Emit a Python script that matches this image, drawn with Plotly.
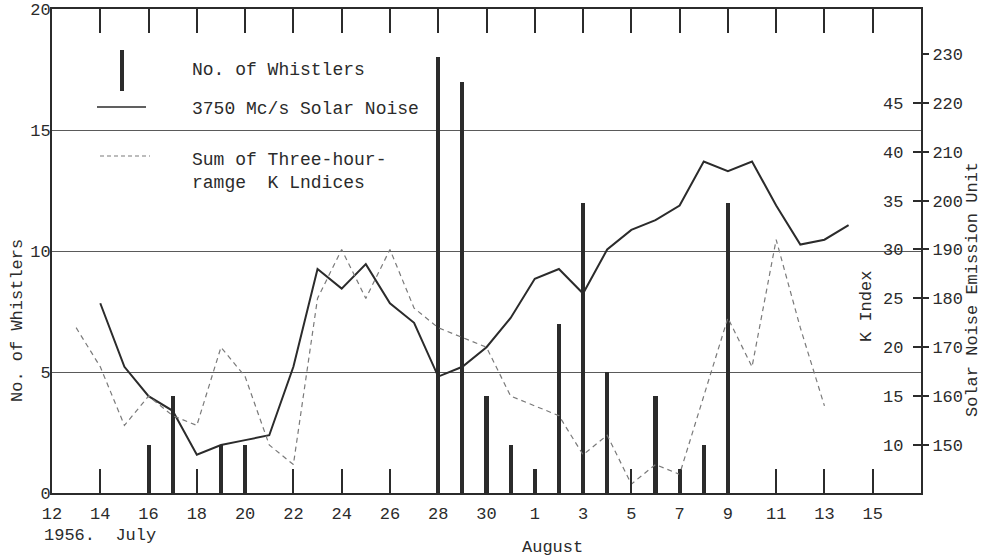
import plotly.graph_objects as go
import pandas as pd

# ---------------- data ----------------
whistler_dates = ["1956-07-16", "1956-07-17", "1956-07-19", "1956-07-20", "1956-07-28",
                  "1956-07-29", "1956-07-30", "1956-07-31", "1956-08-01", "1956-08-02",
                  "1956-08-03", "1956-08-04", "1956-08-06", "1956-08-07", "1956-08-08",
                  "1956-08-09"]
whistler_counts = [2, 4, 2, 2, 18, 17, 4, 2, 1, 7, 12, 5, 4, 1, 2, 12]

solar_dates = pd.date_range("1956-07-14", "1956-08-14", freq="D")
solar_noise = [179, 166, 160, 157, 148, 150, 151, 152, 166, 186, 182, 187, 179, 175,
               164, 166, 170, 176, 184, 186, 181, 190, 194, 196, 199, 208, 206, 208,
               199, 191, 192, 195]

k_dates = pd.date_range("1956-07-13", "1956-08-13", freq="D")
k_sum = [22, 18, 12, 15, 13, 12, 20, 17, 10, 8, 25, 30, 25, 30, 24, 22, 21, 20, 15,
         14, 13, 9, 11, 6, 8, 7, 15, 23, 18, 31, 22, 14]

tick_dates = pd.date_range("1956-07-12", "1956-08-15", freq="2D")
tick_labels = ["12", "14", "16", "18", "20", "22", "24", "26", "28", "30",
               "1", "3", "5", "7", "9", "11", "13", "15"]

left_ticks = [0, 5, 10, 15, 20]
solar_ticks = [150, 160, 170, 180, 190, 200, 210, 220, 230]
k_ticks = [10, 15, 20, 25, 30, 35, 40, 45]

# ---------------- style ----------------
FONT = "Liberation Mono"
INK = "#2b2b2b"
DASH_INK = "#7a7a7a"
W, H = 987, 558
ML, MR, MT, MB = 52, 66, 9, 65
DAY_MS = 86400000

fig = go.Figure()

fig.add_trace(go.Bar(
    x=whistler_dates, y=whistler_counts, width=0.17 * DAY_MS,
    marker=dict(color=INK, line=dict(width=0)), name="No. of Whistlers",
    yaxis="y", showlegend=False))

fig.add_trace(go.Scatter(
    x=solar_dates, y=solar_noise, mode="lines", yaxis="y2",
    line=dict(color=INK, width=2), name="3750 Mc/s Solar Noise", showlegend=False))

fig.add_trace(go.Scatter(
    x=k_dates, y=k_sum, mode="lines", yaxis="y3",
    line=dict(color=DASH_INK, width=1.2, dash="5px,4px"),
    name="Sum of Three-hour-range K Indices", showlegend=False))

fig.update_layout(
    width=W, height=H,
    margin=dict(l=ML, r=MR, t=MT, b=MB, autoexpand=False),
    paper_bgcolor="white", plot_bgcolor="white",
    font=dict(family=FONT, size=17, color=INK),
    bargap=0,
    xaxis=dict(
        type="date", range=["1956-07-12", "1956-08-17"],
        tickvals=tick_dates, ticktext=tick_labels, automargin=False,
        ticks="inside", ticklen=24, tickwidth=1.5, tickcolor=INK,
        showline=True, linecolor=INK, linewidth=2, mirror="ticks",
        showgrid=False, zeroline=False, ticklabelstandoff=4,
        tickfont=dict(family=FONT, size=17, color=INK)),
    yaxis=dict(
        range=[0, 20], tickvals=left_ticks, ticks="", automargin=False,
        showline=True, linecolor=INK, linewidth=2, mirror=True,
        showgrid=True, gridcolor="#5a5a5a", gridwidth=1, zeroline=False,
        ticklabelstandoff=-4,
        tickfont=dict(family=FONT, size=17, color=INK)),
    yaxis2=dict(
        overlaying="y", side="right", anchor="x", automargin=False,
        range=[140.18, 239.2], tickvals=solar_ticks,
        ticks="outside", ticklen=7, tickwidth=1.5, tickcolor=INK,
        showgrid=False, zeroline=False, showline=False,
        tickfont=dict(family=FONT, size=17, color=INK)),
    yaxis3=dict(
        overlaying="y", side="right", anchor="x", automargin=False,
        range=[5.09, 54.6], tickvals=k_ticks,
        ticks="inside", ticklen=8, tickwidth=1.5, tickcolor=INK,
        ticklabelposition="inside", ticklabelstandoff=10,
        showgrid=False, zeroline=False, showline=False,
        tickfont=dict(family=FONT, size=17, color=INK)),
)

# ---------------- legend (drawn) ----------------
pw = W - ML - MR
ph = H - MT - MB

def px(xp):
    return (xp - ML) / pw

def py(yp):
    return (H - MB - yp) / ph

fig.add_shape(type="line", xref="paper", yref="paper",
              x0=px(122), x1=px(122), y0=py(50), y1=py(91),
              line=dict(color=INK, width=4))
fig.add_shape(type="line", xref="paper", yref="paper",
              x0=px(97), x1=px(146), y0=py(107), y1=py(107),
              line=dict(color=INK, width=1.5))
fig.add_shape(type="line", xref="paper", yref="paper",
              x0=px(100), x1=px(150), y0=py(156), y1=py(156),
              line=dict(color=DASH_INK, width=1.2, dash="4px,3px"))

def note(text, x, y, xanchor="left", angle=0, size=17):
    fig.add_annotation(text=text, xref="paper", yref="paper", x=x, y=y,
                       xanchor=xanchor, yanchor="middle", showarrow=False,
                       textangle=angle, align="left",
                       font=dict(family=FONT, size=size, color=INK))

note("No. of Whistlers", px(190), py(70), size=18)
note("3750 Mc/s Solar Noise", px(190), py(109), size=18)
note("Sum of Three-hour-<br>ramge\u00a0\u00a0K Lndices", px(190), py(171), size=18)

# axis titles
note("No. of Whistlers", px(17), py(321), xanchor="center", angle=-90)
note("K Index", px(866), py(307), xanchor="center", angle=-90)
note("Solar Noise Emission Unit", px(972), py(290), xanchor="center", angle=-90)
note("1956.\u00a0\u00a0July", px(42), py(535))
note("August", px(552), py(547), xanchor="center")

fig.write_html(
    "out.html",
    config={"displayModeBar": False},
    post_script="document.body.style.margin='0';document.body.style.overflow='hidden';")
